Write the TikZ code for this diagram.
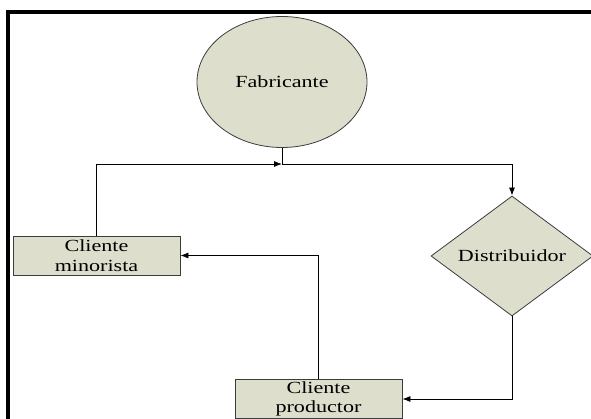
\documentclass[tikz,border=0pt]{standalone}
\usepackage{fontspec}
\setmainfont{Liberation Serif}[FakeStretch=1.3]
\usetikzlibrary{shapes.geometric, arrows.meta}

\definecolor{relleno}{RGB}{221,223,204}
\definecolor{borde}{RGB}{60,60,60}

\begin{document}
\begin{tikzpicture}[
    x=1pt, y=1pt,
    nodo/.style={draw=borde, fill=relleno, line width=0.8pt, align=center, inner sep=0pt, font=\fontsize{17}{19.5}\selectfont},
    fab/.style={nodo, ellipse, minimum width=170pt, minimum height=131pt},
    dist/.style={nodo, diamond, minimum width=162pt, minimum height=115pt},
    cliente/.style={nodo, rectangle, minimum width=167pt, minimum height=39pt},
    arrow/.style={-{Latex[length=8pt, width=6pt]}, line width=0.8pt}
]
    \useasboundingbox (0,0) rectangle (591,419);

    % marco
    \draw[line width=4.5pt] (8,-5) -- (8,407) -- (600,407);

    \node[fab] (fabricante) at (282,337) {Fabricante};
    \node[dist] (distribuidor) at (512,163) {Distribuidor};
    \node[cliente] (minorista) at (96.5,163.5) {Cliente\\minorista};
    \node[cliente] (productor) at (318.5,20) {Cliente\\productor};

    \coordinate (union) at (282,255);

    \draw[line width=0.8pt] (fabricante) -- (union);
    \draw[arrow] (minorista.north) |- (union);
    \draw[arrow] (union) -| (distribuidor.north);
    \draw[arrow] (distribuidor.south) |- (productor.east);
    \draw[arrow] (productor.north) |- (minorista.east);
\end{tikzpicture}
\end{document}
